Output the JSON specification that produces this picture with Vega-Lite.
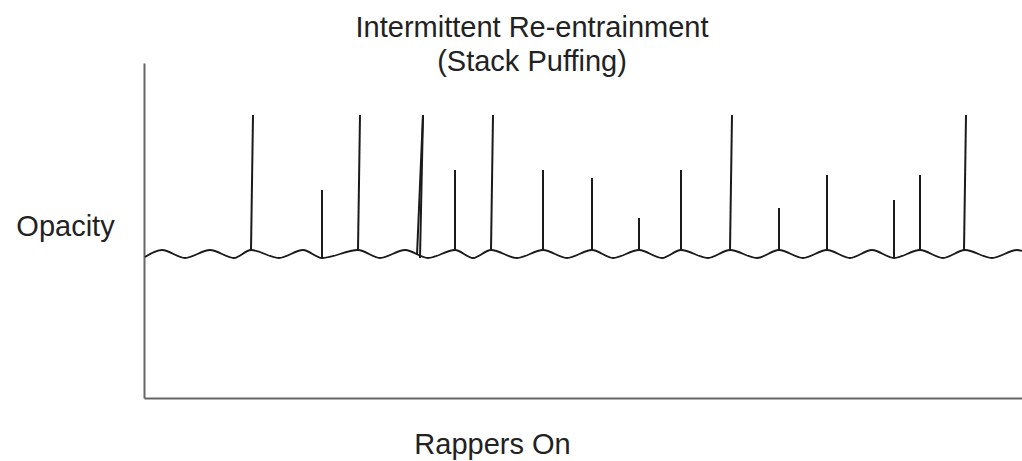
{
  "$schema": "https://vega.github.io/schema/vega-lite/v6.json",
  "autosize": {"type": "none"},
  "width": 878,
  "height": 335,
  "padding": {"left": 144, "top": 63, "right": 0, "bottom": 63},
  "background": "white",
  "config": {"view": {"stroke": null}, "font": "Liberation Sans"},
  "title": {
    "text": ["Intermittent Re-entrainment", "(Stack Puffing)"],
    "fontSize": 29,
    "fontWeight": "normal",
    "font": "Liberation Sans",
    "color": "#222222",
    "lineHeight": 34,
    "anchor": "middle",
    "frame": "group",
    "baseline": "alphabetic",
    "offset": 0,
    "dx": -51,
    "dy": 37
  },
  "datasets": {
    "wave": [
      {"t": 1, "v": 141}, {"t": 18, "v": 148}, {"t": 41, "v": 140}, {"t": 66, "v": 148},
      {"t": 90, "v": 140}, {"t": 107, "v": 148}, {"t": 135, "v": 140}, {"t": 159, "v": 148},
      {"t": 178, "v": 140}, {"t": 214, "v": 148}, {"t": 236, "v": 140}, {"t": 261, "v": 148},
      {"t": 284, "v": 140}, {"t": 311, "v": 148}, {"t": 329, "v": 140}, {"t": 347, "v": 148},
      {"t": 373, "v": 140}, {"t": 399, "v": 148}, {"t": 423, "v": 140}, {"t": 448, "v": 148},
      {"t": 469, "v": 140}, {"t": 495, "v": 148}, {"t": 518, "v": 140}, {"t": 537, "v": 148},
      {"t": 564, "v": 140}, {"t": 586, "v": 148}, {"t": 613, "v": 140}, {"t": 635, "v": 148},
      {"t": 659, "v": 140}, {"t": 683, "v": 148}, {"t": 706, "v": 140}, {"t": 728, "v": 148},
      {"t": 750, "v": 140}, {"t": 776, "v": 148}, {"t": 799, "v": 140}, {"t": 821, "v": 148},
      {"t": 848, "v": 140}, {"t": 873, "v": 148}, {"t": 878, "v": 147}
    ],
    "spikes": [
      {"t": 107, "t2": 109, "base": 148, "top": 283},
      {"t": 178, "t2": 178, "base": 140, "top": 208},
      {"t": 214, "t2": 216, "base": 148, "top": 283},
      {"t": 273, "t2": 279, "base": 143, "top": 283},
      {"t": 279, "t2": 276, "base": 283, "top": 140},
      {"t": 311, "t2": 311, "base": 148, "top": 228},
      {"t": 347, "t2": 349, "base": 148, "top": 283},
      {"t": 399, "t2": 399, "base": 148, "top": 228},
      {"t": 448, "t2": 448, "base": 148, "top": 220},
      {"t": 495, "t2": 495, "base": 148, "top": 180},
      {"t": 537, "t2": 537, "base": 148, "top": 228},
      {"t": 586, "t2": 588, "base": 148, "top": 283},
      {"t": 635, "t2": 635, "base": 148, "top": 190},
      {"t": 683, "t2": 683, "base": 148, "top": 223},
      {"t": 750, "t2": 750, "base": 140, "top": 198},
      {"t": 776, "t2": 776, "base": 148, "top": 223},
      {"t": 820, "t2": 822, "base": 148, "top": 283}
    ]
  },
  "layer": [
    {
      "data": {"name": "wave"},
      "mark": {"type": "line", "interpolate": "monotone", "color": "#1a1a1a", "strokeWidth": 1.8},
      "encoding": {
        "x": {
          "field": "t", "type": "quantitative",
          "scale": {"domain": [0, 878], "nice": false, "zero": false},
          "axis": {
            "title": "Rappers On", "labels": false, "ticks": false, "grid": false,
            "domainColor": "#666666", "domainWidth": 2,
            "titleFontSize": 29, "titleFontWeight": "normal", "titleFont": "Liberation Sans",
            "titleColor": "#222222", "titleX": 348, "titleY": 55, "titleAlign": "center",
            "titleBaseline": "alphabetic"
          }
        },
        "y": {
          "field": "v", "type": "quantitative",
          "scale": {"domain": [0, 335], "nice": false, "zero": false},
          "axis": {
            "title": "Opacity", "labels": false, "ticks": false, "grid": false,
            "domainColor": "#666666", "domainWidth": 2,
            "titleFontSize": 29, "titleFontWeight": "normal", "titleFont": "Liberation Sans",
            "titleColor": "#222222", "titleAngle": 0, "titleX": -79, "titleY": 172,
            "titleAlign": "center", "titleBaseline": "alphabetic"
          }
        }
      }
    },
    {
      "data": {"name": "spikes"},
      "mark": {"type": "rule", "color": "#1a1a1a", "strokeWidth": 2},
      "encoding": {
        "x": {"field": "t", "type": "quantitative"},
        "x2": {"field": "t2"},
        "y": {"field": "base", "type": "quantitative"},
        "y2": {"field": "top"}
      }
    }
  ]
}
